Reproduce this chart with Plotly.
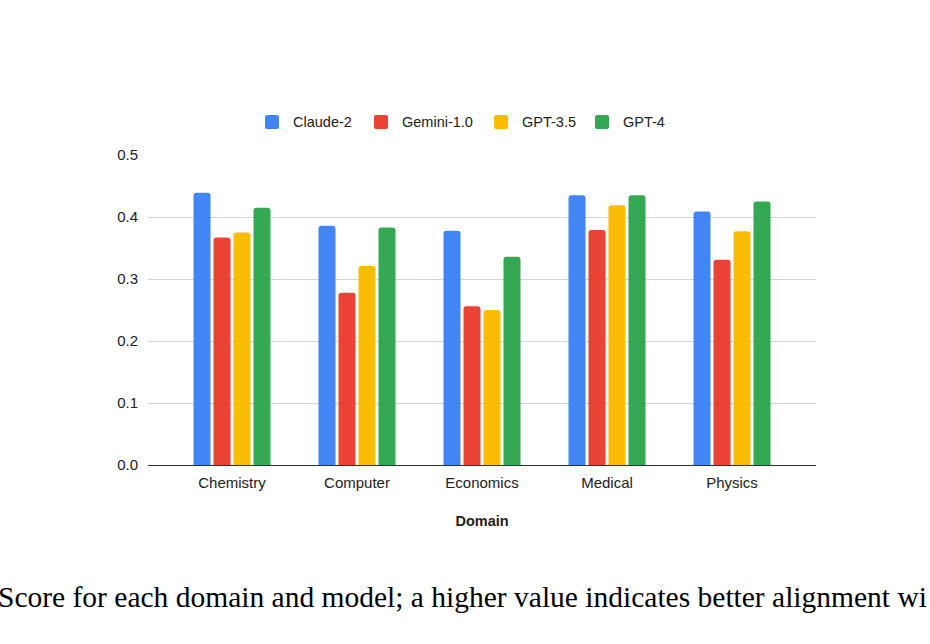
import plotly.graph_objects as go

domains = ["Chemistry", "Computer", "Economics", "Medical", "Physics"]
models = ["Claude-2", "Gemini-1.0", "GPT-3.5", "GPT-4"]
claude2 = [0.439, 0.386, 0.378, 0.435, 0.409]
gemini10 = [0.367, 0.278, 0.256, 0.379, 0.331]
gpt35 = [0.375, 0.321, 0.250, 0.419, 0.377]
gpt4 = [0.415, 0.383, 0.336, 0.435, 0.425]
series = [claude2, gemini10, gpt35, gpt4]
colors = ["#4285F4", "#EA4335", "#FBBC04", "#34A853"]

caption = "Score for each domain and model; a higher value indicates better alignment wi"

W, H = 930, 644
L, R, T, B = 148, 114, 155, 179
pw = W - L - R
ph = H - T - B


def px_x(px):
    return (px - L) / pw


def px_y(py):
    return (H - B - py) / ph


fig = go.Figure()
for name, vals, c in zip(models, series, colors):
    fig.add_trace(go.Bar(x=domains, y=vals, name=name, showlegend=False,
                         marker=dict(color=c, line=dict(width=0))))

# legend drawn as rounded squares + text (pixel positions of each entry)
legend_sq_x = [265, 374, 494, 595]
legend_y = 122
shapes = []
annotations = []
r = 2
s = 7
rounded = (f"M{-s + r},{-s} L{s - r},{-s} Q{s},{-s} {s},{-s + r} L{s},{s - r} Q{s},{s} {s - r},{s} "
           f"L{-s + r},{s} Q{-s},{s} {-s},{s - r} L{-s},{-s + r} Q{-s},{-s} {-s + r},{-s} Z")
for name, c, sx in zip(models, colors, legend_sq_x):
    shapes.append(dict(type="path", xref="paper", yref="paper", xsizemode="pixel", ysizemode="pixel",
                       xanchor=px_x(sx + 7), yanchor=px_y(legend_y), path=rounded,
                       fillcolor=c, line=dict(width=0), layer="above"))
    annotations.append(dict(text=name, xref="paper", yref="paper", x=px_x(sx + 26), xanchor="left",
                            y=px_y(legend_y), yanchor="middle", showarrow=False,
                            font=dict(size=14.5, color="#222222")))

annotations.append(dict(text=caption, xref="paper", yref="paper", x=px_x(-4), xanchor="left",
                        y=px_y(597), yanchor="middle", showarrow=False,
                        font=dict(family="Liberation Serif, Times New Roman, serif", size=29.5, color="#000000")))

fig.update_layout(
    width=W, height=H,
    margin=dict(l=L, r=R, t=T, b=B, pad=0),
    paper_bgcolor="white", plot_bgcolor="white",
    barmode="group", bargap=0.36, bargroupgap=0.15,
    barcornerradius=3,
    font=dict(family="Liberation Sans, Arial, sans-serif", size=14.5, color="#222222"),
    showlegend=False,
    xaxis=dict(title=dict(text="<b>Domain</b>", font=dict(size=14.5, color="#222222"), standoff=25),
               range=[-0.672, 4.672],
               showline=True, linecolor="#333333", linewidth=1, ticks="", showgrid=False,
               ticklabelstandoff=4,
               tickfont=dict(size=15, color="#222222")),
    yaxis=dict(range=[0, 0.5], dtick=0.1, tickformat=".1f", showgrid=True, gridcolor="#d4d4d4",
               gridwidth=1, zeroline=False, showline=False, ticks="", ticklabelstandoff=9,
               tickfont=dict(size=15, color="#222222")),
    shapes=shapes,
    annotations=annotations,
)

fig.write_html("out.html")
